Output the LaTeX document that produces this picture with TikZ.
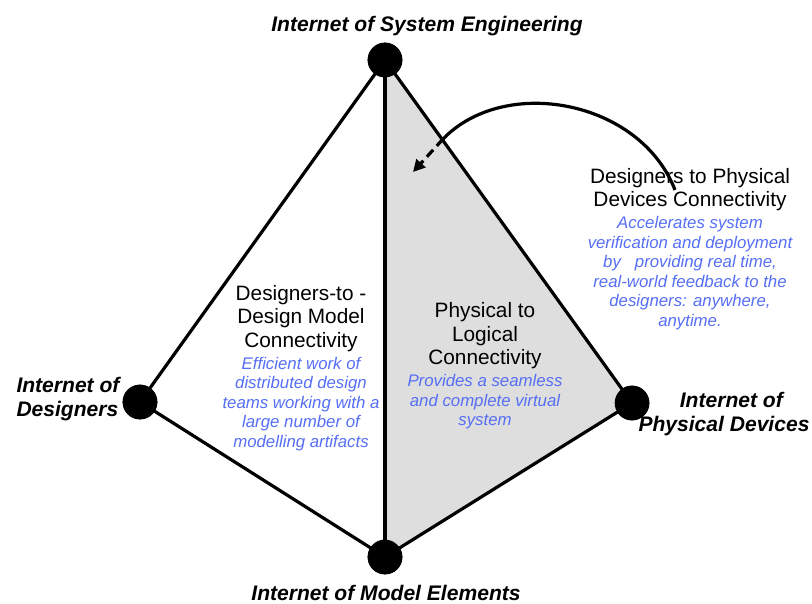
\documentclass[tikz,border=0pt]{standalone}
\usepackage{fontspec}
\setmainfont{Liberation Sans}
\usetikzlibrary{arrows.meta}
\definecolor{bluetxt}{RGB}{85,110,245}
\definecolor{shadegray}{RGB}{222,222,222}
\tikzset{
  dot/.style={circle,fill=black,minimum size=26pt,inner sep=0pt},
  edge/.style={line width=2.4pt},
  title/.style={font=\fontsize{15.8}{17.5}\selectfont\bfseries\itshape,align=center,inner sep=0pt},
  block/.style={align=center,inner sep=0pt,font={\lineskiplimit=-50pt\lineskip=0pt\fontsize{12.6}{14.6}\selectfont}},
}
\newcommand{\hd}[1]{{\color{black}\fontsize{15.6}{14.6}\selectfont\upshape #1}}
\newcommand{\bl}[1]{{\color{bluetxt}\fontsize{12.6}{14.6}\selectfont\itshape #1}}
\begin{document}
\begin{tikzpicture}[x=0.75pt,y=-0.75pt]
\useasboundingbox (0,0) rectangle (812,603);
\node[dot] (T) at (385,60) {};
\node[dot] (L) at (140,402) {};
\node[dot] (B) at (385,557) {};
\node[dot] (R) at (632,403) {};
\fill[shadegray] (T.center) -- (R.center) -- (B.center) -- cycle;
\draw[edge] (T.center) -- (L.center);
\draw[edge] (L.center) -- (B.center);
\draw[edge] (T.center) -- (B.center);
\draw[edge] (T.center) -- (R.center);
\draw[edge] (R.center) -- (B.center);
\node[dot] at (T) {};
\node[dot] at (L) {};
\node[dot] at (B) {};
\node[dot] at (R) {};
\node[title] (lt) at (427,26) {Internet of System Engineering};
\node[title,align=left] (ll) at (68,399) {Internet of\\Designers};
\node[title] (lr) at (724,414) {\hspace*{11pt}Internet of\\Physical Devices};
\node[title] (lb) at (386,593) {Internet of Model Elements};
\node[block] (tl) at (301,368) {\hd{Designers-to -}\\[3pt]\hd{Design Model}\\[3pt]\hd{Connectivity}\\[1.9pt]\bl{Efficient work of}\\\bl{distributed design}\\\bl{teams working with a}\\\bl{large number of}\\\bl{modelling artifacts}};
\node[block] (tm) at (485,366) {\hd{Physical to}\\[3pt]\hd{Logical}\\[3pt]\hd{Connectivity}\\[1.9pt]\bl{Provides a seamless}\\\bl{and complete virtual}\\\bl{system}};
\node[block] (tr) at (690,249) {\hd{Designers to Physical}\\[3pt]\hd{Devices Connectivity}\\[1.9pt]\bl{Accelerates system}\\\bl{verification and deployment}\\\bl{by\ \ \ providing real time,}\\\bl{real-world feedback to the}\\\bl{designers: anywhere,}\\\bl{anytime.}};
\coordinate (cs) at (675,190);
\coordinate (ce) at (443,139);
\coordinate (ca) at (413,172);
\draw[line width=2.4pt] (cs) .. controls (640,100) and (505,75) .. (ce);
\draw[line width=2.4pt,dash pattern=on 7pt off 4pt,-{Triangle[length=9pt,width=9pt]}] (ce) -- (ca);
\end{tikzpicture}
\end{document}
